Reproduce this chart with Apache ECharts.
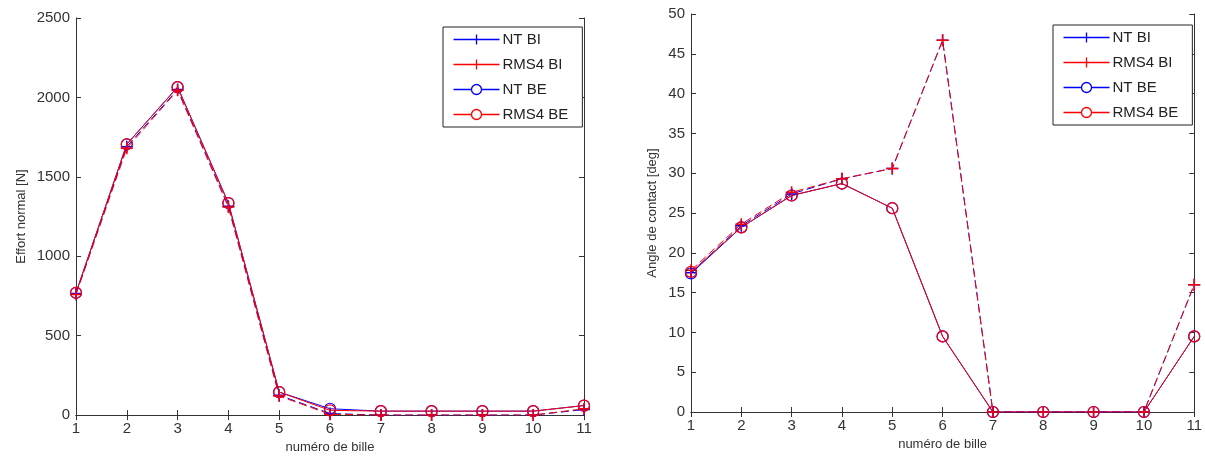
<!DOCTYPE html>
<html><head><meta charset="utf-8">
<script src="https://cdn.jsdelivr.net/npm/echarts@6/dist/echarts.min.js"></script>
<style>html,body{margin:0;padding:0;background:#fff}#c{width:1205px;height:459px}</style>
</head><body><div id="c"></div>
<script>
const balls = [1,2,3,4,5,6,7,8,9,10,11];
const seriesNames = ['NT BI','RMS4 BI','NT BE','RMS4 BE'];
// Left chart: Effort normal [N]
const effortNTBI   = [765,1690,2050,1315,125,10,0,0,0,0,35];
const effortRMSBI  = [760,1680,2045,1310,120,5,0,0,0,0,40];
const effortNTBE   = [770,1705,2065,1335,145,40,25,25,25,25,60];
const effortRMSBE  = [770,1705,2065,1335,145,30,25,25,25,25,60];
// Right chart: Angle de contact [deg]
const angleNTBI    = [17.5,23.4,27.4,29.3,30.6,46.7,0,0,0,0,16];
const angleRMSBI   = [17.8,23.6,27.6,29.3,30.6,46.7,0,0,0,0,16];
const angleNTBE    = [17.4,23.2,27.2,28.7,25.6,9.5,0,0,0,0,9.5];
const angleRMSBE   = [17.6,23.2,27.2,28.7,25.6,9.5,0,0,0,0,9.5];

const BLUE = '#0000ff', RED = '#ff0000';
const PLUS = 'path://M0,5L10,5M5,0L5,10';
const FONT = 'Liberation Sans';
const TXT = '#333333';
const LEG_PLUS = 'path://M0,6L46,6M23,1L23,11';
const LEG_CIRC = 'path://M28,6C28,8.76 25.76,11 23,11C20.24,11 18,8.76 18,6C18,3.24 20.24,1 23,1C25.76,1 28,3.24 28,6ZM0,6L18,6M28,6L46,6';

function pairs(v){ return balls.map((b,i)=>[b,v[i]]); }

function mkSeries(name, data, color, isBI, xi, yi){
  return {
    name, type:'line', xAxisIndex:xi, yAxisIndex:yi, data:pairs(data),
    color,
    symbol: isBI ? PLUS : 'circle',
    symbolSize: isBI ? 12 : 11,
    showAllSymbol:true,
    lineStyle: isBI ? {color, width:1, type:[8,4]} : {color, width:1, type:'solid'},
    itemStyle: isBI ? {color, borderColor: color, borderWidth:1.5}
                    : {color:'rgba(255,255,255,0)', borderColor: color, borderWidth:1.2},
    emphasis:{disabled:true}, animation:false
  };
}

function xAxes(grid){
  return [
    {type:'value', gridIndex:grid, min:1, max:11, interval:1,
     name:'numéro de bille', nameLocation:'middle', nameGap:22,
     nameTextStyle:{fontFamily:FONT, fontSize:13, color:TXT},
     axisLine:{lineStyle:{color:'#333', width:1}},
     axisTick:{inside:true, length:5, lineStyle:{color:'#333'}},
     axisLabel:{fontFamily:FONT, fontSize:15, color:TXT, margin:6},
     splitLine:{show:false}},
    {type:'value', gridIndex:grid, position:'top', min:1, max:11, interval:1,
     axisLine:{lineStyle:{color:'#333', width:1}},
     axisTick:{inside:true, length:5, lineStyle:{color:'#333'}},
     axisLabel:{show:false}, splitLine:{show:false}}
  ];
}
function yAxes(grid, max, interval, name, gap){
  return [
    {type:'value', gridIndex:grid, min:0, max, interval,
     name, nameLocation:'middle', nameGap:gap,
     nameTextStyle:{fontFamily:FONT, fontSize:13, color:TXT},
     axisLine:{show:true, lineStyle:{color:'#333', width:1}},
     axisTick:{show:true, inside:true, length:5, lineStyle:{color:'#333'}},
     axisLabel:{fontFamily:FONT, fontSize:15, color:TXT, margin:6, formatter:v=>String(v)},
     splitLine:{show:false}},
    {type:'value', gridIndex:grid, position:'right', min:0, max, interval,
     axisLine:{show:true, lineStyle:{color:'#333', width:1}},
     axisTick:{show:true, inside:true, length:5, lineStyle:{color:'#333'}},
     axisLabel:{show:false}, splitLine:{show:false}}
  ];
}
function legendItems(){
  return seriesNames.map((n,i)=>{
    const c = i%2===0 ? BLUE : RED;
    return {
      name:n,
      icon: i<2 ? LEG_PLUS : LEG_CIRC,
      itemStyle:{color:'none', borderColor:c, borderWidth:1.3},
      lineStyle:{color:c, width:1.3, type:'solid'}
    };
  });
}
function legend(left, top){
  return {
    left, top, orient:'vertical', itemGap:10, itemWidth:46, itemHeight:10,
    backgroundColor:'#fff', borderColor:'#222', borderWidth:1,
    padding:[5,14,5,8],
    textStyle:{fontFamily:FONT, fontSize:15, color:'#222', padding:[0,0,0,-2]},
    data: legendItems(), selectedMode:false
  };
}

const chart = echarts.init(document.getElementById('c'), null, {renderer:'canvas'});
chart.setOption({
  backgroundColor:'#fff',
  animation:false,
  grid:[
    {left:76, top:18, width:508, height:399},
    {left:691, top:14, width:504, height:398}
  ],
  xAxis:[...xAxes(0), ...xAxes(1)],
  yAxis:[...yAxes(0, 2500, 500, 'Effort normal [N]', 48), ...yAxes(1, 50, 5, 'Angle de contact [deg]', 32)],
  legend:[legend(443, 27), legend(1053, 25)],
  series:[
    mkSeries('NT BI', effortNTBI, BLUE, true, 0, 0),
    mkSeries('RMS4 BI', effortRMSBI, RED, true, 0, 0),
    mkSeries('NT BE', effortNTBE, BLUE, false, 0, 0),
    mkSeries('RMS4 BE', effortRMSBE, RED, false, 0, 0),
    mkSeries('NT BI', angleNTBI, BLUE, true, 2, 2),
    mkSeries('RMS4 BI', angleRMSBI, RED, true, 2, 2),
    mkSeries('NT BE', angleNTBE, BLUE, false, 2, 2),
    mkSeries('RMS4 BE', angleRMSBE, RED, false, 2, 2)
  ]
});
</script></body></html>
